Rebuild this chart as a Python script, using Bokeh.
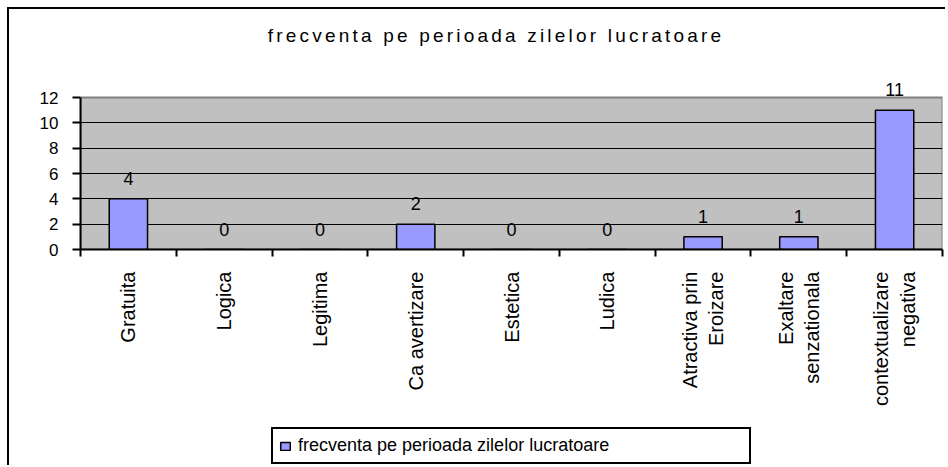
import numpy as np
from bokeh.plotting import figure
from bokeh.layouts import column
from bokeh.models import (ColumnDataSource, Range1d, FixedTicker, LinearAxis, LabelSet,
                          Legend, LegendItem, Grid, Div, BoxAnnotation)
from bokeh.core.properties import value
from bokeh.embed import file_html
from bokeh.resources import INLINE

# ---- data ----
categories = ["Gratuita", "Logica", "Legitima", "Ca avertizare", "Estetica", "Ludica",
              "Atractiva prin\nEroizare", "Exaltare\nsenzationala", "contextualizare\nnegativa"]
values = [4, 0, 0, 2, 0, 0, 1, 1, 11]
series_name = "frecventa pe perioada zilelor lucratoare"
title_text = "frecventa pe perioada zilelor lucratoare"
y_ticks = [0, 2, 4, 6, 8, 10, 12]

FONT = "Liberation Sans"
BAR_FILL = "#9999FF"
n = len(categories)
xs = list(range(n))
y_max = y_ticks[-1]
src = ColumnDataSource(dict(x=xs, y=values, label=[str(v) for v in values]))

W = 936

# ---- title (HTML text, letter-spaced like the original) ----
title = Div(text=('<div style="width:936px; box-sizing:border-box; padding-left:38px; '
                  'padding-top:15px; line-height:24px; text-align:center; '
                  'font-family:\'Liberation Sans\'; font-size:19px; letter-spacing:3.2px; '
                  'color:black; white-space:nowrap;">' + title_text + '</div>'),
            width=W, height=60, margin=0)

# ---- main chart ----
# the frame reaches a little above 12 so that the value label of the tallest bar is not clipped;
# the grey plot area itself stops at 12 like in the original
H1 = 350
p = figure(width=W, height=H1, output_backend="svg", toolbar_location=None, title=None,
           x_range=Range1d(-0.5, n - 0.5), y_range=Range1d(0, 13.5),
           min_border_left=71, min_border_right=3, min_border_top=9, min_border_bottom=170,
           x_axis_type=None, y_axis_type=None)
p.background_fill_color = "white"
p.border_fill_color = "white"
p.outline_line_color = None

plot_area = BoxAnnotation(left=-0.5, right=n - 0.5, bottom=0, top=y_max,
                          fill_color="#C0C0C0", fill_alpha=1.0,
                          line_color="#808080", line_width=2, line_alpha=1.0,
                          level="underlay")
p.add_layout(plot_area)

yaxis = LinearAxis(ticker=FixedTicker(ticks=y_ticks), bounds=(0, y_max),
                   axis_line_color="black", axis_line_width=2,
                   major_tick_out=8, major_tick_in=0, major_tick_line_width=2,
                   major_tick_line_color="black",
                   minor_tick_line_color=None,
                   major_label_standoff=14,
                   major_label_text_font=FONT, major_label_text_font_size="17px",
                   major_label_text_color="black")
p.add_layout(yaxis, "left")
p.add_layout(Grid(dimension=1, ticker=FixedTicker(ticks=y_ticks[1:-1]),
                  grid_line_color="black", grid_line_width=1))

# x axis: labels at category centres, tick marks at category boundaries
xaxis = LinearAxis(ticker=FixedTicker(ticks=xs, minor_ticks=[i - 0.5 for i in range(n + 1)]),
                   major_label_overrides={i: c for i, c in enumerate(categories)},
                   axis_line_color="black", axis_line_width=2,
                   major_tick_line_color=None, major_tick_out=0, major_tick_in=0,
                   minor_tick_line_color="black", minor_tick_line_width=2,
                   minor_tick_out=7, minor_tick_in=0,
                   major_label_orientation=np.pi / 2,
                   major_label_standoff=15,
                   major_label_text_align="center",
                   major_label_text_font=FONT, major_label_text_font_size="20px",
                   major_label_text_color="black")
p.add_layout(xaxis, "below")

bars = p.vbar(x="x", top="y", width=0.4, source=src,
              fill_color=BAR_FILL, line_color="black", line_width=1.5)

labels = LabelSet(x="x", y="y", text="label", source=src, y_offset=14,
                  text_align="center", text_baseline="alphabetic",
                  text_font=value(FONT), text_font_size=value("18px"), text_color="black")
p.add_layout(labels)

# ---- legend strip (same series as a hidden renderer; only its legend key shows) ----
H2 = 46
p2 = figure(width=W, height=H2, output_backend="svg", toolbar_location=None, title=None,
            x_range=Range1d(-0.5, n - 0.5), y_range=Range1d(-3, -2),
            x_axis_type=None, y_axis_type=None,
            min_border_left=0, min_border_right=0, min_border_top=0, min_border_bottom=0)
p2.outline_line_color = None
p2.background_fill_color = "white"
p2.border_fill_color = "white"
key = p2.vbar(x="x", top="y", width=0.4, source=src,
              fill_color=BAR_FILL, line_color="black", line_width=1.5)
key.visible = False
legend = Legend(items=[LegendItem(label=series_name, renderers=[key])],
                location=(191, 1), orientation="horizontal",
                border_line_color="black", border_line_width=2, border_line_alpha=1.0,
                background_fill_color="white", background_fill_alpha=1.0,
                label_text_font=FONT, label_text_font_size="18px", label_text_color="black",
                glyph_width=12, glyph_height=10, label_standoff=7,
                padding=6, label_width=445, margin=0)
p2.add_layout(legend)

layout = column(title, p, p2, spacing=0)
# outer chart border (its right/bottom sides lie beyond the window in the reference)
layout.styles = {"margin-left": "7px", "margin-top": "7px",
                 "border-left": "2px solid black", "border-top": "2px solid black"}

open("out.html", "w").write(file_html(layout, INLINE))
